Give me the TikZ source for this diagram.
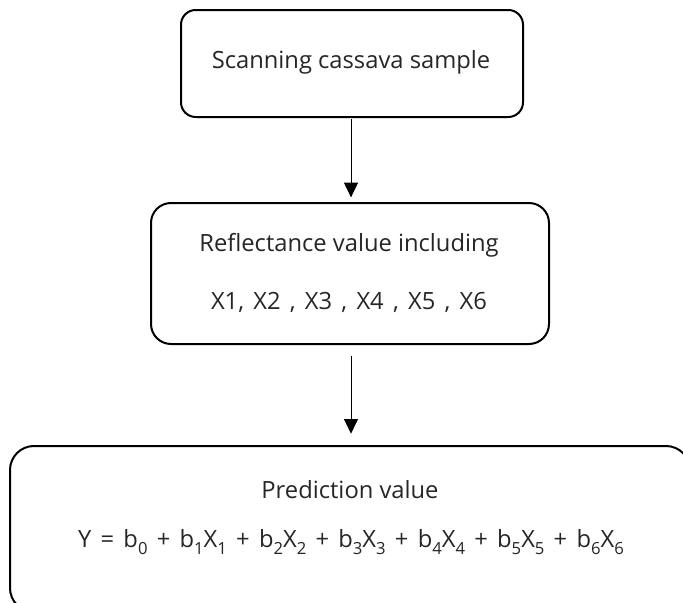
\documentclass[tikz,border=0pt]{standalone}
\usepackage{fontspec}
\setmainfont{Open Sans}
\usetikzlibrary{arrows.meta}
\newcommand\mysub[1]{\raisebox{-0.5ex}{\fontsize{12.5}{14}\selectfont #1}}
\begin{document}
\begin{tikzpicture}[x=0.75pt,y=-0.75pt,
  box/.style={draw=black,line width=1.5pt,inner sep=0pt},
  txt/.style={inner sep=0pt,font=\fontsize{17.8}{21}\selectfont,text=black!85},
  widesp/.style={execute at begin node={\spaceskip=0.39em plus 0.1em}},
  conn/.style={line width=0.75pt,-{Triangle[width=10.5pt,length=11pt]}}]
\clip (0,0) rectangle (683,603);
\fill[white] (0,0) rectangle (683,603);
\node[box,rounded corners=11pt,minimum width=256.5pt,minimum height=80.25pt] (b1) at (352,63.5) {};
\node[box,rounded corners=15pt,minimum width=298.5pt,minimum height=105.75pt] (b2) at (350,273.5) {};
\node[box,rounded corners=18pt,minimum width=510pt,minimum height=124.5pt] (b3) at (350,529) {};
\node[txt] (t1) at (351,62) {Scanning cassava sample};
\node[txt] (t2) at (349,245) {Reflectance value including};
\node[txt,widesp] (t3) at (349,302) {X1, X2 , X3 , X4 , X5 , X6};
\node[txt] (t4) at (350,490) {Prediction value};
\node[txt,widesp] (t5) at (351,542) {Y = b\mysub{0} + b\mysub{1}X\mysub{1} + b\mysub{2}X\mysub{2} + b\mysub{3}X\mysub{3} + b\mysub{4}X\mysub{4} + b\mysub{5}X\mysub{5} + b\mysub{6}X\mysub{6}};
\draw[conn,shorten <=1pt,shorten >=3.5pt] (b1.south -| 351,0) -- (b2.north -| 351,0);
\draw[conn,shorten <=8pt,shorten >=8.5pt] (b2.south -| 351,0) -- (b3.north -| 351,0);
\end{tikzpicture}
\end{document}
